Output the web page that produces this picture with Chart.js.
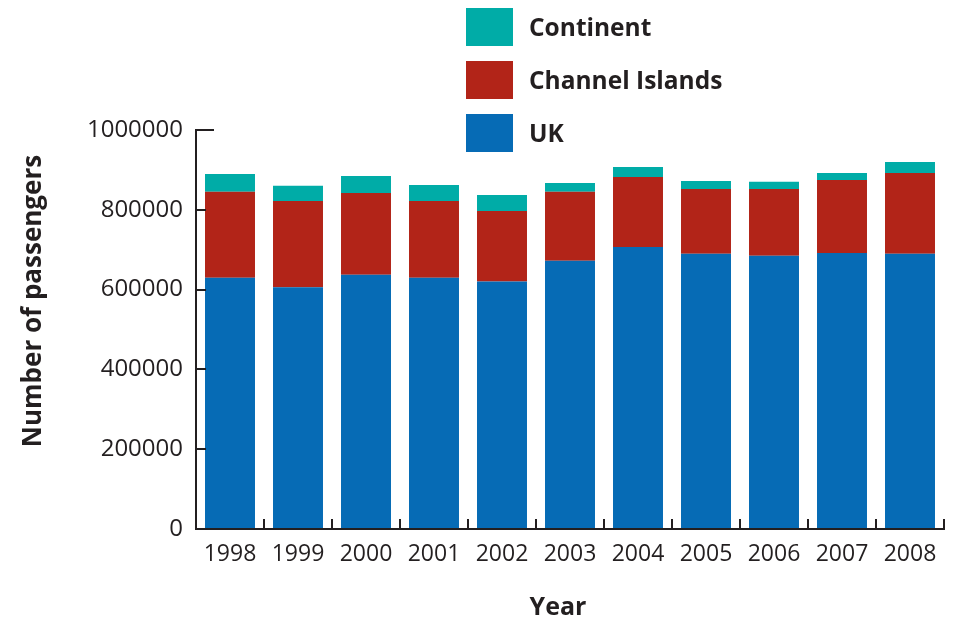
<!DOCTYPE html>
<html>
<head>
<meta charset="utf-8">
<script src="https://cdn.jsdelivr.net/npm/chart.js@4/dist/chart.umd.min.js"></script>
<style>
  html, body { margin: 0; padding: 0; background: #fff; }
  #wrap { width: 959px; height: 624px; }
</style>
</head>
<body>
<div id="wrap"><canvas id="passengerChart" width="959" height="624"></canvas></div>
<script>
// passengers per year, split by where the trip went
const years = ["1998", "1999", "2000", "2001", "2002", "2003", "2004", "2005", "2006", "2007", "2008"];
const ukPassengers = [630000, 606000, 637000, 630000, 620000, 672000, 707000, 690000, 685000, 692000, 690000];
const channelIslands = [215000, 216000, 205000, 192000, 177000, 173000, 175000, 162000, 167000, 183000, 202000];
const continent = [45000, 38000, 43000, 40000, 40000, 22000, 25000, 20000, 18000, 17000, 28000];
const yTicks = [0, 200000, 400000, 600000, 800000, 1000000];

const INK = "#231f20";
const FONT = "'Open Sans', 'Noto Sans', sans-serif";

// axis lines, inward tick marks, axis titles and the stacked legend
const decorations = {
  id: "decorations",
  afterDraw(chart) {
    const { ctx, chartArea } = chart;
    const y = chart.scales.y;
    const left = chartArea.left;
    const bottom = y.getPixelForValue(0);
    const top = y.getPixelForValue(yTicks[yTicks.length - 1]);

    ctx.save();
    ctx.strokeStyle = INK;
    ctx.lineWidth = 2;
    ctx.lineCap = "butt";

    // y axis with cap at the top
    ctx.beginPath();
    ctx.moveTo(left, bottom + 1);
    ctx.lineTo(left, top);
    ctx.lineTo(left + 18, top);
    ctx.stroke();

    // y tick marks
    yTicks.slice(1, -1).forEach((v) => {
      const py = Math.round(y.getPixelForValue(v));
      ctx.beginPath();
      ctx.moveTo(left, py);
      ctx.lineTo(left + 10, py);
      ctx.stroke();
    });

    // x axis and marks between the years
    const right = chartArea.right;
    ctx.beginPath();
    ctx.moveTo(left - 1, bottom);
    ctx.lineTo(right, bottom);
    ctx.lineTo(right, bottom - 10);
    ctx.stroke();
    const step = (right - left) / years.length;
    for (let i = 1; i < years.length; i++) {
      const px = Math.round(left + i * step);
      ctx.beginPath();
      ctx.moveTo(px, bottom);
      ctx.lineTo(px, bottom - 10);
      ctx.stroke();
    }

    // axis titles
    ctx.fillStyle = INK;
    ctx.textAlign = "center";
    ctx.textBaseline = "middle";
    ctx.font = "bold 25px " + FONT;
    ctx.fillText("Year", 558, 608);

    ctx.translate(34, 301);
    ctx.rotate(-Math.PI / 2);
    ctx.font = "bold 26px " + FONT;
    ctx.fillText("Number of passengers", 0, 0);
    ctx.restore();

    // legend, top entry is the top of the stack
    ctx.save();
    const sets = chart.data.datasets.slice().reverse();
    ctx.font = "bold 24.5px " + FONT;
    ctx.textAlign = "left";
    ctx.textBaseline = "middle";
    sets.forEach((ds, i) => {
      const by = 8 + i * 53;
      ctx.fillStyle = ds.backgroundColor;
      ctx.fillRect(466, by, 47, 38);
      ctx.fillStyle = INK;
      ctx.fillText(ds.label, 529, by + 21);
    });
    ctx.restore();
  },
};

const ctx = document.getElementById("passengerChart").getContext("2d");
new Chart(ctx, {
  type: "bar",
  data: {
    labels: years,
    datasets: [
      { label: "UK", data: ukPassengers, backgroundColor: "#066bb5" },
      { label: "Channel Islands", data: channelIslands, backgroundColor: "#b22418" },
      { label: "Continent", data: continent, backgroundColor: "#00aca7" },
    ],
  },
  options: {
    responsive: false,
    animation: false,
    layout: { padding: { top: 130, right: 15, bottom: 0, left: 0 } },
    datasets: {
      bar: { categoryPercentage: 1, barPercentage: 0.735, borderWidth: 0 },
    },
    plugins: {
      legend: { display: false },
      tooltip: { enabled: false },
    },
    scales: {
      x: {
        stacked: true,
        grid: { display: false, drawTicks: false },
        border: { display: false },
        ticks: {
          color: INK,
          font: { family: FONT, size: 23 },
          padding: 12,
          maxRotation: 0,
        },
        afterFit(scale) {
          scale.height = 95;
        },
      },
      y: {
        stacked: true,
        min: 0,
        max: 1000000,
        grid: { display: false, drawTicks: false },
        border: { display: false },
        ticks: {
          stepSize: 200000,
          color: INK,
          font: { family: FONT, size: 24 },
          padding: 13,
          callback: (v) => String(v),
        },
        afterFit(scale) {
          scale.width = 196;
        },
      },
    },
  },
  plugins: [decorations],
});
</script>
</body>
</html>
